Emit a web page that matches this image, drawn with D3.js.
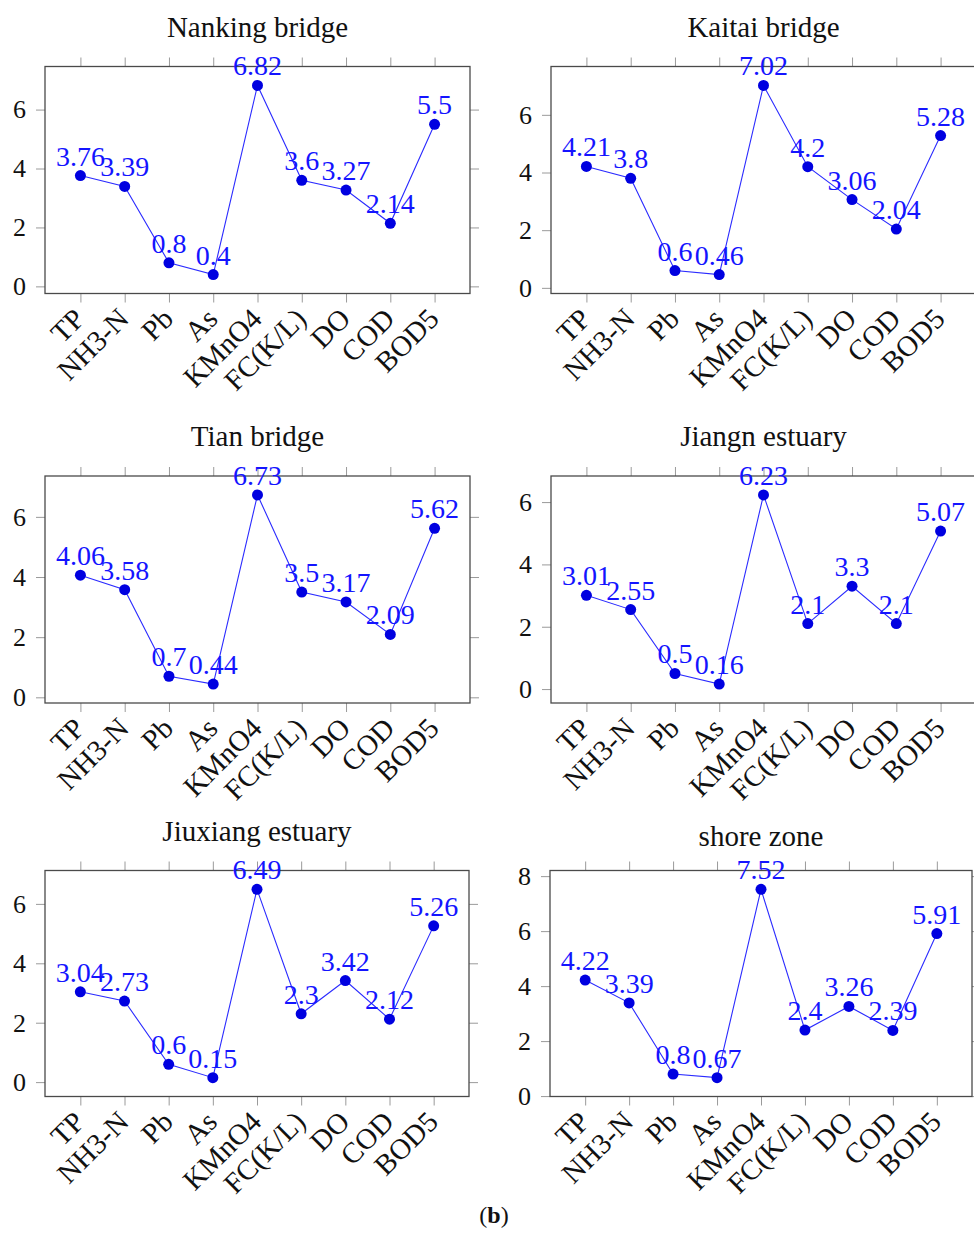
<!DOCTYPE html>
<html>
<head>
<meta charset="utf-8">
<script src="https://cdn.jsdelivr.net/npm/d3@7"></script>
<style>
  body { margin: 0; background: #fff; }
  svg { display: block; }
  text { font-family: "Liberation Serif", "Times New Roman", serif; }
</style>
</head>
<body>
<svg id="chart" width="974" height="1236"></svg>
<script>
// Water-quality indicators measured at each monitoring site
const categories = ["TP", "NH3-N", "Pb", "As", "KMnO4", "FC(K/L)", "DO", "COD", "BOD5"];
const siteNames = ["Nanking bridge", "Kaitai bridge", "Tian bridge", "Jiangn estuary", "Jiuxiang estuary", "shore zone"];

const nankingBridge   = [3.76, 3.39, 0.8, 0.4, 6.82, 3.6, 3.27, 2.14, 5.5];
const kaitaiBridge    = [4.21, 3.8, 0.6, 0.46, 7.02, 4.2, 3.06, 2.04, 5.28];
const tianBridge      = [4.06, 3.58, 0.7, 0.44, 6.73, 3.5, 3.17, 2.09, 5.62];
const jiangnEstuary   = [3.01, 2.55, 0.5, 0.16, 6.23, 2.1, 3.3, 2.1, 5.07];
const jiuxiangEstuary = [3.04, 2.73, 0.6, 0.15, 6.49, 2.3, 3.42, 2.12, 5.26];
const shoreZone       = [4.22, 3.39, 0.8, 0.67, 7.52, 2.4, 3.26, 2.39, 5.91];

const siteSeries = [nankingBridge, kaitaiBridge, tianBridge, jiangnEstuary, jiuxiangEstuary, shoreZone];

// Plot boxes for the 3 x 2 grid of panels
const panelLayout = [
  { left: 45,  top: 66.5,  width: 425, height: 227 },
  { left: 551, top: 66.5,  width: 425, height: 227 },
  { left: 45,  top: 476,   width: 425, height: 227 },
  { left: 551, top: 476,   width: 425, height: 227 },
  { left: 45,  top: 870.5, width: 424, height: 226 },
  { left: 550, top: 870.5, width: 422, height: 226 }
];

const BLUE_LINE = "#2b2bff";
const BLUE_DOT = "#0000e0";
const BLUE_TEXT = "#1414ff";
const TICK_GRAY = "#9a9a9a";
const TICK_LEN = 9;

const svg = d3.select("#chart");

siteSeries.forEach((values, i) => {
  const box = panelLayout[i];
  const left = box.left, right = box.left + box.width;
  const top = box.top, bottom = box.top + box.height;

  // x: categorical positions with 10% enlargement on either side
  const x = d3.scalePoint().domain(categories).range([left, right]).padding(0.8);

  // y: data range enlarged by 10% at both ends
  const lo = d3.min(values), hi = d3.max(values), span = hi - lo;
  const y = d3.scaleLinear().domain([lo - 0.1 * span, hi + 0.1 * span]).range([bottom, top]);
  const yTicks = d3.range(0, y.domain()[1], 2).filter(t => t >= y.domain()[0]);

  const g = svg.append("g");

  // Axis ticks on all four sides, pointing outward
  const axes = [
    { axis: d3.axisBottom(x), tr: `translate(0,${bottom})` },
    { axis: d3.axisTop(x),    tr: `translate(0,${top})` },
    { axis: d3.axisLeft(y).tickValues(yTicks),  tr: `translate(${left},0)` },
    { axis: d3.axisRight(y).tickValues(yTicks), tr: `translate(${right},0)` }
  ];
  axes.forEach(a => {
    const ag = g.append("g").attr("transform", a.tr)
      .call(a.axis.tickSizeInner(TICK_LEN).tickSizeOuter(0).tickFormat(""));
    ag.select(".domain").remove();
    ag.selectAll(".tick line").attr("stroke", TICK_GRAY).attr("stroke-width", 1);
  });

  // Y tick labels
  g.selectAll(".ylab").data(yTicks).join("text")
    .attr("class", "ylab")
    .attr("x", left - 19)
    .attr("y", d => y(d))
    .attr("dy", "0.34em")
    .attr("text-anchor", "end")
    .attr("font-size", 26)
    .attr("fill", "#111")
    .text(d => d);

  // Rotated category labels
  g.selectAll(".xlab").data(categories).join("text")
    .attr("class", "xlab")
    .attr("transform", d => `translate(${x(d) - 1},${bottom + 20}) rotate(-45)`)
    .attr("text-anchor", "end")
    .attr("dy", "0.34em")
    .attr("font-size", 29)
    .attr("fill", "#111")
    .text(d => d);

  // Plot frame
  g.append("rect")
    .attr("x", left).attr("y", top)
    .attr("width", box.width).attr("height", box.height)
    .attr("fill", "none").attr("stroke", "#4a4a4a").attr("stroke-width", 1.3);

  // Title (shifted down a little when no letters descend below the baseline)
  const name = siteNames[i];
  const titleY = top - 30 + (/[gjpqy]/.test(name) ? 0 : 5);
  g.append("text")
    .attr("x", (left + right) / 2)
    .attr("y", titleY)
    .attr("text-anchor", "middle")
    .attr("font-size", 29)
    .attr("fill", "#111")
    .text(name);

  // Series line, markers and value labels
  const pts = categories.map((c, k) => ({ c, v: values[k] }));
  g.append("path")
    .datum(pts)
    .attr("fill", "none")
    .attr("stroke", BLUE_LINE)
    .attr("stroke-width", 1.1)
    .attr("d", d3.line().x(d => x(d.c)).y(d => y(d.v)));

  g.selectAll(".dot").data(pts).join("circle")
    .attr("class", "dot")
    .attr("cx", d => x(d.c)).attr("cy", d => y(d.v))
    .attr("r", 5.5)
    .attr("fill", BLUE_DOT);

  g.selectAll(".val").data(pts).join("text")
    .attr("class", "val")
    .attr("x", d => x(d.c))
    .attr("y", d => y(d.v) - 10)
    .attr("text-anchor", "middle")
    .attr("font-size", 28)
    .attr("fill", BLUE_TEXT)
    .text(d => String(d.v));
});

// Sub-figure label
const fig = svg.append("text")
  .attr("x", 494).attr("y", 1223)
  .attr("text-anchor", "middle")
  .attr("font-size", 24)
  .attr("fill", "#111");
fig.append("tspan").text("(");
fig.append("tspan").attr("font-weight", "bold").text("b");
fig.append("tspan").text(")");
</script>
</body>
</html>
